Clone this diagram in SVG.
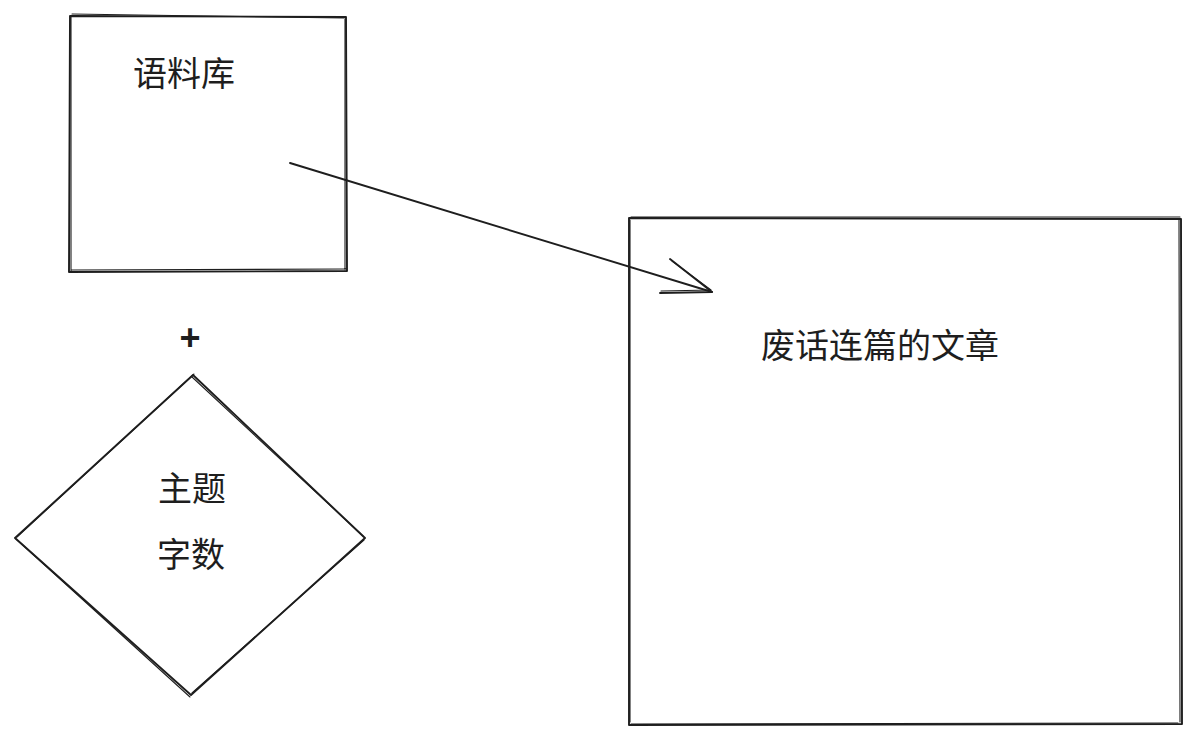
<svg xmlns="http://www.w3.org/2000/svg" width="1200" height="744" viewBox="0 0 1200 744">
<style>
.s{fill:none;stroke:#1e1e1e;stroke-width:1.9;stroke-linecap:round;stroke-linejoin:round}
.s2{fill:none;stroke:#1e1e1e;stroke-width:1.1;stroke-linecap:round;stroke-linejoin:round}
.t{font-family:"Noto Sans CJK SC","Noto Sans",sans-serif;font-size:34px;fill:#1e1e1e;text-anchor:middle}
</style>
<rect width="1200" height="744" fill="#ffffff"/>
<g id="corpus">
<path class="s" d="M70 16 L346 17 L347 271 L69 272 Z"/>
<path class="s2" d="M72 14 L344 18 M345 19 L345 270 M346 269 L71 270 M71 271 L71 17"/>
<text class="t" x="184" y="86">语料库</text>
</g>
<g id="plus">
<text x="190" y="350" style="font-family:'Liberation Sans',sans-serif;font-size:36px;font-weight:bold;fill:#1e1e1e;text-anchor:middle">+</text>
</g>
<g id="topic">
<path class="s" d="M193 375 L365 538 L191 695 L15 538 Z"/>
<path class="s2" d="M192 377 L363 536 M364 540 L192 693 M190 697 L16 539 M17 537 L194 374"/>
<text class="t" x="192" y="501">主题</text>
<text class="t" x="191" y="567">字数</text>
</g>
<g id="article">
<path class="s" d="M629 218 L1181 219 L1182 724 L629 725 Z"/>
<path class="s2" d="M631 217 L1180 217 M1179 220 L1180 722 M1178 723 L631 724 M630 722 L630 220"/>
<text class="t" x="880" y="358">废话连篇的文章</text>
</g>
<g id="connectors">
<path class="s" d="M290 163 L712 292"/>
<path class="s" d="M670 259 L712 292 L660 293"/>
<path class="s2" d="M672 261 L711 290 L661 291"/>
</g>
</svg>
